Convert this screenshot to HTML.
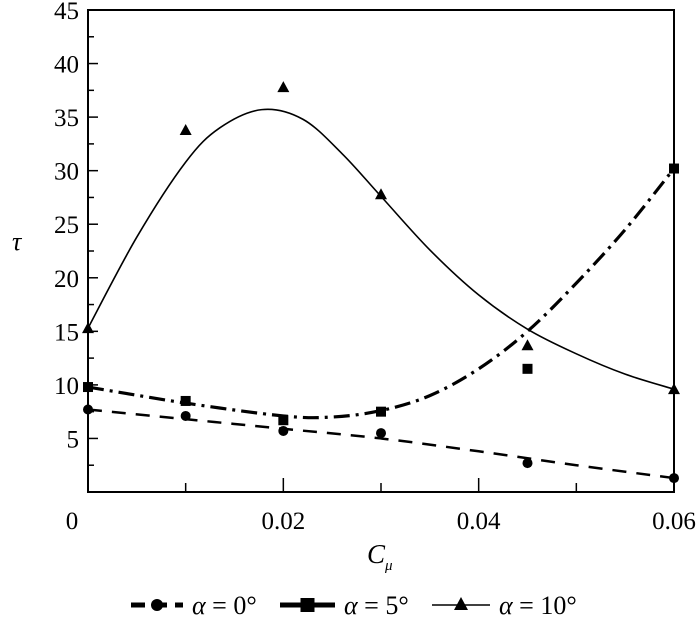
<!DOCTYPE html>
<html><head><meta charset="utf-8"><style>
body{margin:0;background:#fff;}
svg text{font-family:"Liberation Serif",serif;fill:#000;}
</style></head><body>
<svg width="700" height="616" viewBox="0 0 700 616">
<g id="plot"></g>
</svg>
<script>
const xTicks=[0,0.02,0.04,0.06];
const xTickLabels=["0","0.02","0.04","0.06"];
const yTicks=[5,10,15,20,25,30,35,40,45];
const x0Pts=[0,0.01,0.02,0.03,0.045,0.06];
const a0Pts=[7.7,7.1,5.7,5.5,2.7,1.3];
const a5Pts=[9.8,8.5,6.7,7.5,11.5,30.2];
const a10Pts=[15.3,33.8,37.8,27.8,13.7,9.6];
const a0CurveX=[0,0.01,0.02,0.03,0.04,0.05,0.06];
const a0CurveY=[7.7,6.8,5.9,5.0,3.8,2.5,1.3];
const a5CurveX=[0,0.01,0.02,0.025,0.03,0.035,0.04,0.045,0.05,0.055,0.06];
const a5CurveY=[9.8,8.3,7.1,7.0,7.6,9.0,11.5,15.0,19.5,24.5,30.2];
const a10CurveX=[0,0.005,0.01,0.0135,0.0178,0.022,0.026,0.03,0.035,0.04,0.045,0.05,0.055,0.06];
const a10CurveY=[15.3,23.8,30.8,34.0,35.7,34.8,31.6,27.6,22.6,18.4,15.2,12.9,11.0,9.6];

const L=88,R=674,T=10,B=492;
const sx=v=>L+(v-0)/0.06*(R-L);
const sy=v=>B-(v/45)*(B-T);
const NS='http://www.w3.org/2000/svg';
const g=document.getElementById('plot');
function mk(tag,attrs,parent){const e=document.createElementNS(NS,tag);for(const k in attrs)e.setAttribute(k,attrs[k]);(parent||g).appendChild(e);return e;}
function smooth(xs,ys){const p=xs.map((x,i)=>[sx(x),sy(ys[i])]);let d='M'+p[0][0]+','+p[0][1];
for(let i=0;i<p.length-1;i++){const p0=p[i-1]||p[i],p1=p[i],p2=p[i+1],p3=p[i+2]||p2;
const c1=[p1[0]+(p2[0]-p0[0])/6,p1[1]+(p2[1]-p0[1])/6],c2=[p2[0]-(p3[0]-p1[0])/6,p2[1]-(p3[1]-p1[1])/6];
d+=' C'+c1+' '+c2+' '+p2;}return d;}

let e=mk('rect',{x:L,y:T,width:R-L,height:B-T,fill:'none',stroke:'#000','stroke-width':2});

for(let v=2.5;v<=45;v+=2.5){const major=(v%5===0);
 e=mk('line',{x1:L,x2:L+(major?10:6),y1:sy(v),y2:sy(v),stroke:'#000','stroke-width':1.5});
 }
yTicks.forEach(v=>{e=mk('text',{x:79,y:sy(v)+9,'text-anchor':'end','font-size':25});e.textContent=v;
 });
for(let v=0.01;v<0.06;v+=0.01){const major=Math.abs(v/0.02-Math.round(v/0.02))<1e-6;
 e=mk('line',{x1:sx(v),x2:sx(v),y1:B,y2:B-(major?14:9),stroke:'#000','stroke-width':1.5});
 }
xTicks.forEach((v,i)=>{e=mk('text',{x:sx(v)-(i===0?16:0),y:529,'text-anchor':'middle','font-size':25});e.textContent=xTickLabels[i];
 });
e=mk('text',{x:367,y:563,'font-size':27,'font-style':'italic'});e.innerHTML='C<tspan font-size="15" dy="7">μ</tspan>';

e=mk('text',{x:12,y:250,'font-size':26,'font-style':'italic'});e.textContent='τ';


e=mk('path',{d:smooth(a0CurveX,a0CurveY),fill:'none',stroke:'#000','stroke-width':2.5,'stroke-dasharray':'14 10'});

e=mk('path',{d:smooth(a5CurveX,a5CurveY),fill:'none',stroke:'#000','stroke-width':3.2,'stroke-dasharray':'16 6 3 6'});

e=mk('path',{d:smooth(a10CurveX,a10CurveY),fill:'none',stroke:'#000','stroke-width':1.6});

x0Pts.forEach((x,i)=>{
 e=mk('circle',{cx:sx(x),cy:sy(a0Pts[i]),r:5,fill:'#000'});
 
 e=mk('rect',{x:sx(x)-5,y:sy(a5Pts[i])-5,width:10,height:10,fill:'#000'});
 
 const cx=sx(x),cy=sy(a10Pts[i]);
 e=mk('polygon',{points:`${cx-6},${cy+5} ${cx+6},${cy+5} ${cx},${cy-6}`,fill:'#000'});
 
});
const lg=mk('g',{});
function entry(x,w,dash,sw,marker,label,name){const y=605;
 const gg=mk('g',{},lg);
 mk('line',{x1:x,x2:x+w,y1:y,y2:y,stroke:'#000','stroke-width':sw,'stroke-dasharray':dash},gg);
 const c=x+w/2;
 if(marker==='c')mk('circle',{cx:c,cy:y,r:6,fill:'#000'},gg);
 if(marker==='s')mk('rect',{x:c-7,y:y-7,width:14,height:14,fill:'#000'},gg);
 if(marker==='t')mk('polygon',{points:`${c-7},${y+5} ${c+7},${y+5} ${c},${y-8}`,fill:'#000'},gg);
 const t=mk('text',{x:x+w+9,y:y+9,'font-size':26},gg);t.innerHTML='<tspan font-style="italic">α</tspan> = '+label;}
entry(131,52,'14 8',5,'c','0°','legend-alpha0');
entry(280,55,'none',5,'s','5°','legend-alpha5');
entry(432,58,'none',1.6,'t','10°','legend-alpha10');
</script>
</body></html>
